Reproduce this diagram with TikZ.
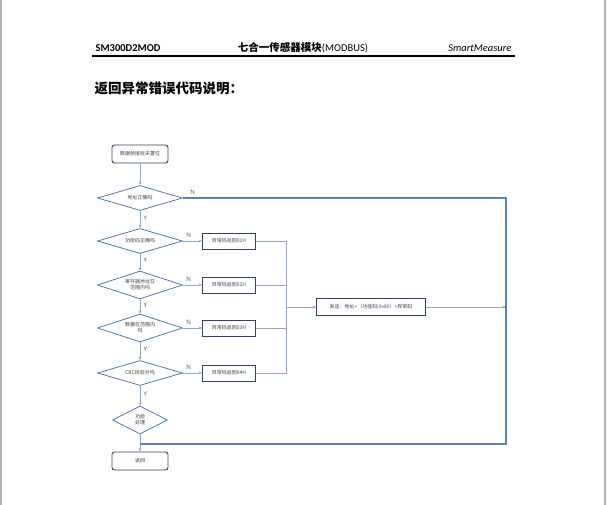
\documentclass[tikz,border=0pt]{standalone}
\usepackage{fontspec}
\setmainfont{Carlito}
\newfontfamily\cjk{Noto Sans CJK SC}
\usepackage{xcolor}
\usepackage{tikz}
\usetikzlibrary{arrows.meta,shapes.geometric}
\definecolor{FlowLine}{HTML}{8EA9C9}
\definecolor{LoopLine}{HTML}{5A84B6}
\definecolor{BoxEdge}{HTML}{2E4466}
\definecolor{DiaEdge}{HTML}{4F7BB0}
\definecolor{PageEdge}{HTML}{B4B4B4}
\tikzset{
  every node/.style={font=\cjk\fontsize{5}{6}\selectfont, text=black!75},
  procbox/.style={draw=BoxEdge, line width=0.9pt, rounded corners=2.5pt, minimum width=56pt, minimum height=18pt, inner sep=0pt},
  errbox/.style={draw=BoxEdge, line width=0.9pt, minimum width=53pt, minimum height=16pt, inner sep=0pt},
  decide/.style={diamond, draw=DiaEdge, line width=0.8pt, aspect=3.4, minimum width=85pt, minimum height=25pt, inner sep=0pt, align=center},
  flow/.style={FlowLine, line width=0.7pt, -{Stealth[length=3.5pt,width=3pt]}},
  bus/.style={FlowLine, line width=0.7pt},
  loopline/.style={LoopLine, line width=1.1pt},
  yn/.style={font=\fontsize{7}{8}\selectfont, text=black!60}
}

\begin{document}
\begin{tikzpicture}[x=1pt,y=-1pt]
\useasboundingbox (0,0) rectangle (607,505);
\draw[PageEdge, line width=1.5pt] (1,0) -- (1,505) (605,0) -- (605,505);
% page header
\node[anchor=base west, font=\bfseries\fontsize{10.5}{12}\selectfont, text=black] (model) at (92,52) {SM300D2MOD};
\node[anchor=base, font=\fontsize{10.5}{12}\selectfont, text=black] (module) at (303,52) {{\cjk\bfseries 七合一传感器模块}(MODBUS)};
\node[anchor=base east, font=\itshape\fontsize{10.5}{12}\selectfont, text=black] (brand) at (515,52) {SmartMeasure};
\draw[black, line width=1.1pt] (92,56) -- (515,56);
\node[anchor=west, font=\cjk\bfseries\fontsize{13.5}{15}\selectfont, text=black] (title) at (91,88) {返回异常错误代码说明：};

% main flow
\node[procbox] (start) at (140,154) {数据帧接收未置位};
\node[decide] (addr) at (140,198) {地址正确吗};
\node[decide] (func) at (140,241) {功能码正确吗};
\node[decide, minimum height=28pt] (reg) at (140,285) {寄存器地址在\\范围内吗};
\node[decide, minimum height=28pt] (data) at (140,328) {数据在范围内\\吗};
\node[decide] (crc) at (140,373) {CRC校验对吗};
\node[decide, minimum width=55pt, minimum height=28pt, aspect=2] (proc) at (140,420) {功能\\处理};
\node[procbox] (ret) at (140,461) {返回};

\node[errbox] (e01) at (229,241) {异常码返回01H};
\node[errbox] (e02) at (229,285) {异常码返回02H};
\node[errbox] (e03) at (229,328) {异常码返回03H};
\node[errbox] (e04) at (229,373) {异常码返回04H};
\node[errbox, minimum width=109pt, minimum height=17pt] (send) at (371,307) {发送：地址+（功能码|0x80）+异常码};

\coordinate (hub) at (286,307);
\coordinate (rtop) at (506,198);
\coordinate (rbot) at (506,444);
\coordinate (join) at (140,444);

\draw[flow] (start) -- (addr);
\draw[flow] (addr) -- node[yn, right, pos=0.4] {Y} (func);
\draw[flow] (func) -- node[yn, right, pos=0.4] {Y} (reg);
\draw[flow] (reg) -- node[yn, right, pos=0.4] {Y} (data);
\draw[flow] (data) -- node[yn, right, pos=0.4] {Y} (crc);
\draw[flow] (crc) -- node[yn, right, pos=0.4] {Y} (proc);
\draw[flow] (proc) -- (ret);

\draw[flow] (func) -- node[yn, above, pos=0.3] {N} (e01);
\draw[flow] (reg) -- node[yn, above, pos=0.3] {N} (e02);
\draw[flow] (data) -- node[yn, above, pos=0.3] {N} (e03);
\draw[flow] (crc) -- node[yn, above, pos=0.3] {N} (e04);
\foreach \e in {e01,e02,e03,e04}
  \draw[bus] (\e) -| (hub);
\draw[flow] (hub) -- (send);
\draw[flow] (send) -- (send -| rtop);

\draw[loopline] (addr) -- node[yn, above, pos=0.03] {N} (rtop) -- (rbot) -- (join);
\end{tikzpicture}
\end{document}
